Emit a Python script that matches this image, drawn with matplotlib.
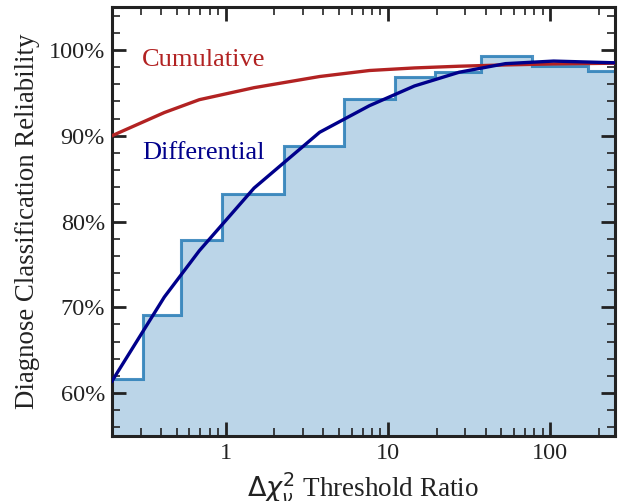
"""Reliability of the diagnosis versus the chi-square threshold ratio."""

import matplotlib as mpl
import matplotlib.pyplot as plt
import numpy as np
from matplotlib.ticker import FixedLocator, FuncFormatter, LogLocator, NullFormatter

RED = "#B22222"
NAVY = "#00008B"
BLUE = "#1F77B4"
FRAME = "#222222"

# binned reliability (step histogram)
bin_edges = [0.2, 0.31, 0.53, 0.95, 2.3, 5.35, 11.1, 19.5, 37.5, 77, 170, 250]
bin_reliability = [61.7, 69.1, 77.8, 83.2, 88.8, 94.3, 96.8, 97.4, 99.3, 98.1, 97.5]

# smoothed differential curve
diff_x = [0.2, 0.42, 0.69, 1.5, 3.8, 7.7, 14.6, 27.5, 53, 105, 250]
diff_y = [61.4, 71.2, 76.6, 83.9, 90.4, 93.5, 95.8, 97.4, 98.4, 98.7, 98.5]

# cumulative curve
cum_x = [0.2, 0.42, 0.69, 1.5, 3.8, 7.7, 14.6, 27.5, 53, 105, 250]
cum_y = [90.0, 92.7, 94.2, 95.6, 96.9, 97.6, 97.9, 98.1, 98.25, 98.37, 98.45]


def setup_style():
    mpl.rcParams.update(
        {
            "font.family": "serif",
            "font.serif": ["Liberation Serif", "DejaVu Serif"],
            "mathtext.fontset": "dejavusans",
            "text.color": "#222222",
            "axes.labelcolor": "#222222",
            "xtick.color": FRAME,
            "ytick.color": FRAME,
            "xtick.labelcolor": "#222222",
            "ytick.labelcolor": "#222222",
        }
    )


def main():
    setup_style()
    fig = plt.figure(figsize=(6.21, 5.01), dpi=100)
    ax = fig.add_axes([0.1804, 0.1297, 0.8096, 0.8563])

    edges = np.array(bin_edges)
    vals = np.array(bin_reliability)
    ax.stairs(vals, edges, baseline=0, fill=True, color=BLUE, alpha=0.3, lw=0, zorder=1)
    ax.stairs(vals, edges, baseline=None, color=BLUE, alpha=0.8, lw=2.2, zorder=2)

    ax.plot(cum_x, cum_y, color=RED, lw=2.4, zorder=3)
    ax.plot(diff_x, diff_y, color=NAVY, lw=2.4, zorder=4)

    ax.text(0.06, 0.876, "Cumulative", transform=ax.transAxes, color=RED,
            fontsize=19, va="center", ha="left")
    ax.text(0.06, 0.66, "Differential", transform=ax.transAxes, color=NAVY,
            fontsize=19, va="center", ha="left")

    ax.set_xscale("log")
    ax.set_xlim(0.2, 250)
    ax.set_ylim(55, 105)

    ax.yaxis.set_major_locator(FixedLocator([60, 70, 80, 90, 100]))
    ax.yaxis.set_minor_locator(FixedLocator(np.arange(56, 105, 2)))
    ax.yaxis.set_major_formatter(FuncFormatter(lambda v, _: f"{v:.0f}%"))
    ax.xaxis.set_major_locator(FixedLocator([1, 10, 100]))
    ax.xaxis.set_major_formatter(FuncFormatter(lambda v, _: f"{v:g}"))
    ax.xaxis.set_minor_locator(LogLocator(base=10, subs=np.arange(2, 10), numticks=20))
    ax.xaxis.set_minor_formatter(NullFormatter())

    ax.tick_params(which="both", direction="in", top=True, right=True, labelsize=17.5)
    ax.tick_params(which="major", length=10, width=2.0, pad=5)
    ax.tick_params(which="minor", length=6, width=1.2)

    for spine in ax.spines.values():
        spine.set_color(FRAME)
        spine.set_linewidth(2.2)

    ax.set_ylabel("Diagnose Classification Reliability", fontsize=19.4, labelpad=6)
    ax.set_xlabel(r"$\Delta\chi^2_\nu$ Threshold Ratio", fontsize=19.5, labelpad=4)

    fig.savefig("out.png", dpi=100)
    plt.close(fig)


if __name__ == "__main__":
    main()
